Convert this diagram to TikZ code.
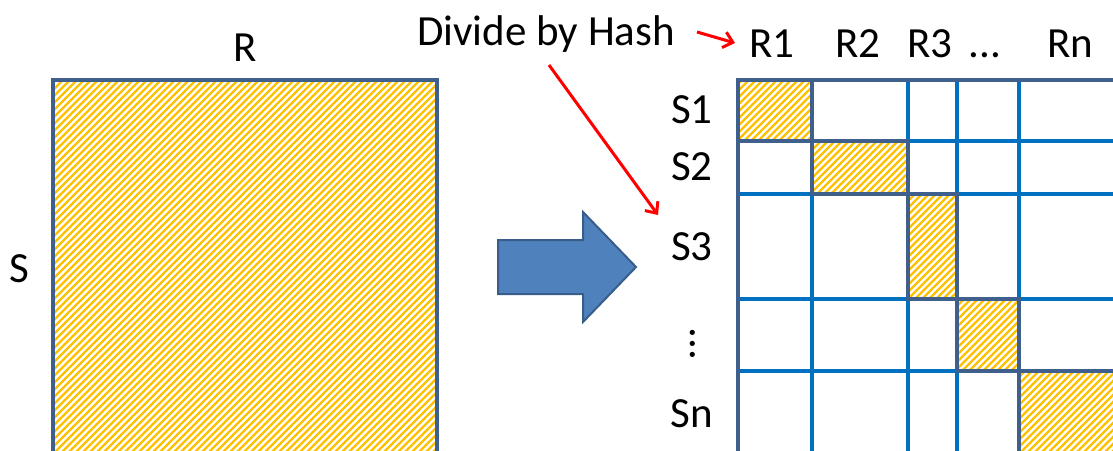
\documentclass[tikz,border=0pt]{standalone}
\usepackage{fontspec}
\setmainfont{Carlito}
\usetikzlibrary{arrows.meta}
\definecolor{hatch}{HTML}{FFC000}
\definecolor{frame}{HTML}{3F5F8C}
\definecolor{gridblue}{HTML}{0070C0}
\definecolor{arrowfill}{HTML}{4F81BD}
\definecolor{arrowline}{HTML}{385D8A}
\newcommand{\hatchbox}[4]{%
  \begin{scope}
    \clip (#1,#2) rectangle (#3,#4);
    \pgfmathtruncatemacro\ilo{(#1-650)/7-1}
    \pgfmathtruncatemacro\ihi{#3/7+1}
    \foreach \i in {\ilo,...,\ihi}{
      \draw[stripe] (7*\i,500) -- ++(620,-620);
    }
  \end{scope}
  \draw[framed] (#1,#2) rectangle (#3,#4);
}
\begin{document}
\begin{tikzpicture}[x=1pt,y=-1pt,
 lbl/.style={font=\fontsize{43}{50}\selectfont, inner sep=0pt, anchor=base},
 stripe/.style={draw=hatch, line width=2.4pt},
 framed/.style={draw=frame, line width=4pt},
 gridline/.style={draw=gridblue, line width=4pt},
 redarrow/.style={draw=red, line width=3pt, -{Straight Barb[length=9pt,width=16pt]}},
 bigarrow/.style={fill=arrowfill, draw=arrowline, line width=2pt, line join=miter}
]
\useasboundingbox (0,0) rectangle (1113,450);
\clip (0,0) rectangle (1113,450);
% left square
\hatchbox{53}{80}{437}{480}
\node[lbl] (R) at (245,61) {R};
\node[lbl] (S) at (19,282) {S};
% big arrow
\draw[bigarrow] (498,240) -- (583,240) -- (583,212) -- (636,267) -- (583,322) -- (583,294) -- (498,294) -- cycle;
% grid lines
\foreach \x in {812,908,957,1019} \draw[gridline] (\x,80) -- (\x,470);
\foreach \y in {141,194,299,371} \draw[gridline] (738,\y) -- (1130,\y);
% hatched diagonal cells
\hatchbox{738}{80}{812}{141}
\hatchbox{812}{141}{908}{194}
\hatchbox{908}{194}{957}{299}
\hatchbox{957}{299}{1019}{371}
\hatchbox{1019}{371}{1140}{480}
\draw[framed] (738,480) -- (738,80) -- (1130,80);
% column labels
\node[lbl] (R1) at (772,57) {R1};
\node[lbl] (R2) at (858,57) {R2};
\node[lbl] (R3) at (930,57) {R3};
\node[lbl] (Rdots) at (985,57) {...};
\node[lbl] (Rn) at (1070,57) {Rn};
% row labels
\node[lbl] (S1) at (692,123) {S1};
\node[lbl] (S2) at (692,180) {S2};
\node[lbl] (S3) at (692,260) {S3};
\node[inner sep=0pt, font=\fontsize{43}{50}\selectfont, rotate=-90] (Sdots) at (693,344) {...};
\node[lbl] (Sn) at (692,427) {Sn};
% divide by hash
\node[lbl] (hash) at (546,45) {Divide by Hash};
\coordinate (a1s) at (697,32);
\coordinate (a1e) at (735,43);
\coordinate (a2s) at (549,65);
\coordinate (a2e) at (658,215);
\draw[redarrow] (a1s) -- (a1e);
\draw[redarrow] (a2s) -- (a2e);
\end{tikzpicture}
\end{document}
